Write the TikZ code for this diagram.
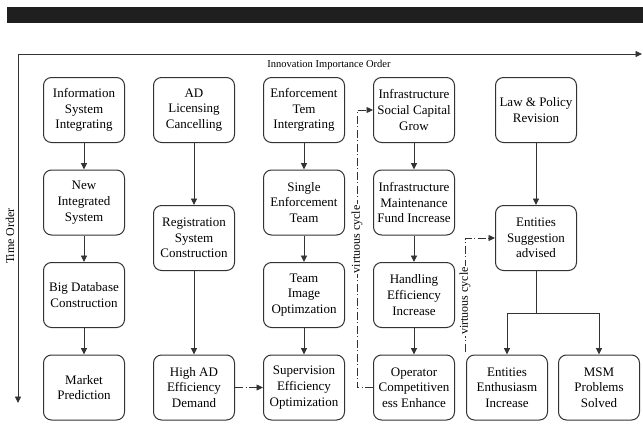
\documentclass[tikz,border=0pt]{standalone}
\usepackage{fontspec}
\setmainfont{Liberation Serif}
\usetikzlibrary{arrows.meta,positioning,calc}
\definecolor{linegray}{HTML}{333333}
\tikzset{
  stage/.style={draw=linegray,line width=1pt,rounded corners=8pt,minimum width=81pt,minimum height=65pt,align=center,font=\fontsize{13pt}{15.7pt}\selectfont},
  flow/.style={-{Triangle[length=6.5pt,width=6pt]},line width=0.9pt,draw=linegray},
  cycleflow/.style={-{Triangle[length=6.5pt,width=6pt]},line width=0.7pt,draw=linegray,dash pattern=on 8pt off 2.5pt on 1pt off 2.5pt},
  cyclelabel/.style={rotate=90,fill=white,inner sep=1pt,font=\fontsize{12pt}{14pt}\selectfont}
}

\begin{document}
\begin{tikzpicture}[x=1pt,y=1pt,node distance=26.5pt and 28pt]
\useasboundingbox (0,0) rectangle (643,-431);
\fill[black!88] (7,-7) rectangle (643,-23);

% axes
\coordinate (origin) at (18,-54);
\coordinate (xend) at (642,-54);
\coordinate (yend) at (18,-403);
\draw[flow,line width=0.8pt] (origin) -- (xend);
\draw[flow,line width=0.8pt] (origin) -- (yend);
\node[font=\fontsize{10.5pt}{12pt}\selectfont] (xlabel) at (329,-65) {Innovation Importance Order};
\node[rotate=90,font=\fontsize{12pt}{14pt}\selectfont] (ylabel) at (10,-236) {Time Order};

% first column
\node[stage] (info) at (84,-110) {Information\\System\\Integrating};
\node[stage, below=of info] (newsys) {New\\Integrated\\System};
\node[stage, below=of newsys] (bigdb) {Big Database\\Construction};
\node[stage, below=of bigdb] (market) {Market\\Prediction};

% second column
\node[stage, right=of info] (adlic) {AD\\Licensing\\Cancelling};
\node[stage, below=62pt of adlic] (reg) {Registration\\System\\Construction};
\node[stage, right=of market] (highad) {High AD\\Efficiency\\Demand};

% third column
\node[stage, right=of adlic] (enfteam) {Enforcement\\Tem\\Intergrating};
\node[stage, below=of enfteam] (single) {Single\\Enforcement\\Team};
\node[stage, below=of single] (teamimg) {Team\\Image\\Optimzation};
\node[stage, below=of teamimg] (superv) {Supervision\\Efficiency\\Optimization};

% fourth column
\node[stage, right=of enfteam] (infsoc) {Infrastructure\\Social Capital\\Grow};
\node[stage, below=of infsoc] (infmaint) {Infrastructure\\Maintenance\\Fund Increase};
\node[stage, below=of infmaint] (handling) {Handling\\Efficiency\\Increase};
\node[stage, below=of handling] (operator) {Operator\\Competitiven\\ess Enhance};

% fifth column
\node[stage, right=40pt of infsoc] (law) {Law \& Policy\\Revision};
\node[stage, below=62pt of law] (suggest) {Entities\\Suggestion\\advised};
\node[stage, right=11pt of operator] (enthus) {Entities\\Enthusiasm\\Increase};
\node[stage, right=10pt of enthus] (msm) {MSM\\Problems\\Solved};

\draw[flow] (info) -- (newsys);
\draw[flow] (newsys) -- (bigdb);
\draw[flow] (bigdb) -- (market);
\draw[flow] (adlic) -- (reg);
\draw[flow] (reg) -- (highad);
\draw[flow] (enfteam) -- (single);
\draw[flow] (single) -- (teamimg);
\draw[flow] (teamimg) -- (superv);
\draw[flow] (infsoc) -- (infmaint);
\draw[flow] (infmaint) -- (handling);
\draw[flow] (handling) -- (operator);
\draw[flow] (law) -- (suggest);

\coordinate[below=42pt of suggest] (split);
\draw[line width=0.9pt,draw=linegray] (suggest) -- (split);
\draw[flow] (split) -| (enthus);
\draw[flow] (split) -| (msm);

% virtuous cycles
\draw[cycleflow] (highad) -- (superv);
\draw[cycleflow] (operator.west) -- ++(-16,0) |- node[cyclelabel,pos=0.267] (vclabel) {virtuous cycle} (infsoc.west);
\coordinate (vcstart) at ($(enthus.north west)+(-1,3)$);
\draw[cycleflow] (vcstart) |- node[cyclelabel,pos=0.223] (vclabeltwo) {virtuous cycle} (suggest.west);

\end{tikzpicture}
\end{document}
